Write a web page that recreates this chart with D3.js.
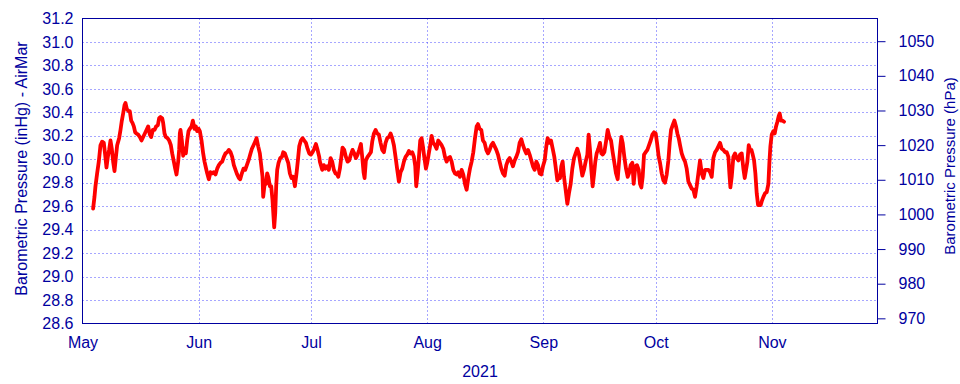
<!DOCTYPE html>
<html>
<head>
<meta charset="utf-8">
<script src="https://cdn.jsdelivr.net/npm/d3@7"></script>
<style>
  html, body { margin: 0; padding: 0; background: #ffffff; }
  svg { display: block; font-family: "Liberation Sans", Arial, sans-serif; }
</style>
</head>
<body>
<svg id="chart" width="960" height="384"></svg>
<script>
// ---------------- DATA ----------------
// [days since 2021-05-01 00:00, pressure in inHg]
const segMay = [[2.84,29.58],[3.20,29.68],[3.46,29.77],[3.91,29.88],[4.35,29.98],[4.80,30.12],[5.24,30.15],[5.69,30.14],[6.04,30.04],[6.40,29.93],[6.76,30.02],[7.11,30.08],[7.47,30.16],[7.82,30.09],[8.18,29.98],[8.54,29.90],[8.89,30.01],[9.25,30.12],[9.78,30.18],[10.14,30.25],[10.50,30.33],[10.85,30.39],[11.21,30.46],[11.47,30.48],[11.83,30.43],[12.28,30.41],[12.63,30.41],[12.99,30.33],[13.34,30.31],[13.70,30.28],[14.06,30.23],[14.41,30.22],[14.86,30.21],[15.30,30.19],[15.75,30.16],[16.19,30.19],[16.64,30.22],[17.08,30.25],[17.53,30.28],[17.97,30.21],[18.33,30.19],[18.77,30.25],[19.22,30.25],[19.66,30.28],[20.11,30.29],[20.46,30.35],[20.82,30.36],[21.27,30.35],[21.53,30.31],[21.89,30.22],[22.24,30.19],[22.69,30.18],[23.13,30.16],[23.58,30.12],[23.94,30.05],[24.38,29.98],[24.74,29.92],[25.09,29.87],[25.54,29.98],[25.80,30.08],[25.98,30.22],[26.16,30.25],[26.52,30.16],[26.87,30.03],[27.23,30.09],[27.59,30.05],[27.94,30.16],[28.30,30.24],[28.65,30.26],[29.10,30.28],[29.45,30.33],[29.90,30.26],[30.26,30.28],[30.61,30.24],[30.97,30.26]];
const segJun = [[31.32,30.24],[31.77,30.16],[32.21,30.05],[32.57,29.98],[32.92,29.93],[33.28,29.88],[33.72,29.83],[34.17,29.89],[34.61,29.88],[35.06,29.89],[35.50,29.87],[35.95,29.92],[36.39,29.95],[36.84,29.97],[37.28,29.98],[37.73,30.02],[38.17,30.05],[38.62,30.06],[39.06,30.08],[39.51,30.06],[39.95,30.02],[40.40,29.95],[40.84,29.91],[41.29,29.87],[41.73,29.84],[42.09,29.83],[42.54,29.88],[42.98,29.92],[43.43,29.91],[43.87,29.95],[44.32,29.99],[44.76,30.04],[45.21,30.09],[45.65,30.12],[46.10,30.15],[46.45,30.18],[46.90,30.11],[47.34,30.05],[47.70,29.95],[48.05,29.85],[48.23,29.68],[48.59,29.78],[48.94,29.79],[49.30,29.88],[49.66,29.84],[50.01,29.77],[50.37,29.77],[50.72,29.65],[50.99,29.51],[51.17,29.42],[51.44,29.54],[51.70,29.77],[51.97,29.91],[52.33,29.97],[52.77,30.01],[53.22,30.02],[53.57,30.06],[54.02,30.05],[54.46,30.01],[54.91,29.97],[55.35,29.88],[55.80,29.84],[56.24,29.85],[56.69,29.77],[57.13,29.88],[57.49,29.99],[57.85,30.11],[58.29,30.16],[58.74,30.18],[59.18,30.16],[59.63,30.14],[60.07,30.09],[60.52,30.05],[60.96,30.04],[61.41,30.06],[61.85,30.09],[62.30,30.13],[62.74,30.08],[63.19,30.02]];
const segJul = [[63.36,29.98],[63.63,29.95],[63.98,29.91],[64.43,29.95],[64.87,29.92],[65.32,29.94],[65.76,29.91],[66.21,30.01],[66.65,29.98],[67.10,29.91],[67.54,29.88],[67.99,29.87],[68.26,29.85],[68.70,29.92],[69.06,30.01],[69.41,30.10],[69.86,30.08],[70.30,30.02],[70.75,29.98],[71.19,29.99],[71.64,30.04],[72.08,30.08],[72.53,30.05],[72.97,30.01],[73.42,30.04],[73.86,30.08],[74.31,30.13],[74.66,30.02],[75.02,29.89],[75.29,29.84],[75.64,29.99],[76.09,30.02],[76.53,30.04],[76.98,30.06],[77.33,30.15],[77.78,30.22],[78.22,30.25],[78.67,30.22],[79.11,30.21],[79.56,30.14],[80.00,30.08],[80.45,30.06],[80.89,30.14],[81.34,30.18],[81.78,30.19],[82.23,30.22],[82.67,30.18],[83.12,30.12],[83.56,30.02],[84.01,29.91],[84.45,29.81],[84.90,29.89],[85.34,29.92],[85.79,29.98],[86.23,30.02],[86.68,30.04],[87.12,30.07],[87.57,30.05],[88.01,30.06],[88.46,30.02],[88.82,29.94],[89.08,29.77],[89.44,29.88],[89.80,30.02],[90.15,30.16],[90.51,30.18],[90.86,30.11],[91.22,30.02],[91.67,29.92],[92.02,29.97],[92.38,30.04],[92.82,30.12],[93.18,30.20],[93.62,30.14],[94.07,30.12],[94.51,30.09],[94.96,30.16]];
const segAug = [[95.41,30.14],[95.86,30.12],[96.30,30.09],[96.75,30.02],[97.19,29.98],[97.64,30.01],[98.08,30.02],[98.53,29.98],[98.97,29.91],[99.42,29.88],[99.86,29.87],[100.31,29.89],[100.75,29.85],[101.20,29.91],[101.64,29.87],[102.09,29.79],[102.53,29.74],[102.98,29.84],[103.42,29.92],[103.87,29.98],[104.31,30.06],[104.76,30.18],[105.20,30.28],[105.56,30.30],[106.00,30.26],[106.45,30.25],[106.89,30.16],[107.34,30.14],[107.78,30.08],[108.23,30.05],[108.67,30.08],[109.12,30.12],[109.56,30.14],[110.01,30.11],[110.45,30.08],[110.90,30.04],[111.34,29.98],[111.79,29.92],[112.23,29.88],[112.68,29.86],[113.12,29.95],[113.57,29.99],[114.01,30.01],[114.46,29.98],[114.90,29.94],[115.35,29.99],[115.79,30.02],[116.24,30.06],[116.68,30.14],[117.13,30.17],[117.57,30.12],[118.02,30.08],[118.46,30.05],[118.91,30.08],[119.35,30.04],[119.80,29.99],[120.24,29.94],[120.69,29.91],[121.13,29.98],[121.58,29.95],[122.02,29.88],[122.47,29.87],[122.91,29.94],[123.36,29.99],[123.80,30.11],[124.16,30.18],[124.61,30.14],[125.05,30.16],[125.50,30.09],[125.94,30.02],[126.39,29.91],[126.74,29.82],[127.19,29.85]];
const segSep = [[127.45,29.84],[127.81,29.94],[128.16,29.98],[128.52,29.85],[128.96,29.74],[129.41,29.62],[129.85,29.71],[130.30,29.79],[130.74,29.92],[131.19,30.01],[131.63,30.05],[132.08,30.09],[132.52,30.04],[132.97,29.95],[133.41,29.86],[133.86,29.91],[134.30,29.98],[134.75,30.04],[135.10,30.21],[135.46,30.08],[135.82,29.91],[136.17,29.77],[136.53,29.87],[136.88,29.98],[137.24,30.05],[137.69,30.09],[138.13,30.14],[138.49,30.05],[138.84,30.04],[139.29,30.06],[139.73,30.15],[140.18,30.25],[140.62,30.19],[141.07,30.16],[141.51,30.06],[141.96,29.97],[142.40,29.88],[142.85,29.83],[143.20,29.97],[143.56,30.11],[143.83,30.19],[144.18,30.14],[144.63,30.02],[145.07,29.92],[145.52,29.85],[145.87,29.88],[146.32,29.95],[146.76,29.97],[147.12,29.79],[147.57,29.94],[148.01,29.95],[148.46,29.91],[148.81,29.79],[149.17,29.76],[149.52,29.85],[149.88,30.04],[150.33,30.06],[150.77,30.08],[151.22,30.12],[151.66,30.16],[152.11,30.21],[152.55,30.23],[153.00,30.22],[153.35,30.14],[153.80,30.02],[154.15,29.97],[154.60,29.88],[155.04,29.82],[155.49,29.80],[155.93,29.87],[156.38,29.99],[156.73,30.14],[157.09,30.25],[157.53,30.29],[157.98,30.33],[158.42,30.28],[158.78,30.22],[159.14,30.18]];
const segOct = [[159.49,30.12],[159.94,30.05],[160.38,30.01],[160.83,29.98],[161.27,29.92],[161.72,29.81],[162.16,29.78],[162.61,29.75],[163.05,29.74],[163.50,29.68],[163.94,29.77],[164.39,29.88],[164.83,29.99],[165.28,29.88],[165.72,29.84],[166.17,29.91],[166.61,29.91],[167.06,29.91],[167.50,29.89],[167.95,29.85],[168.39,30.01],[168.84,30.06],[169.28,30.08],[169.73,30.11],[170.17,30.14],[170.62,30.09],[171.06,30.08],[171.51,30.06],[171.95,30.06],[172.40,30.02],[172.66,29.88],[172.93,29.76],[173.29,29.85],[173.73,30.02],[174.18,30.05],[174.62,30.01],[175.07,29.99],[175.51,30.04],[175.96,30.05],[176.40,29.92],[176.76,29.84],[177.11,29.91],[177.47,29.98],[177.83,30.12],[178.18,30.08],[178.54,30.08],[178.89,30.04],[179.25,29.99],[179.60,29.88],[179.96,29.71],[180.32,29.61],[180.67,29.61],[181.03,29.61],[181.39,29.65],[181.74,29.68],[182.19,29.71],[182.63,29.72],[183.08,29.79],[183.34,29.97],[183.61,30.11],[183.97,30.21],[184.41,30.24],[184.77,30.22],[185.12,30.28],[185.48,30.32],[185.84,30.37],[186.10,30.39],[186.46,30.33],[186.82,30.33],[187.26,30.32]];

const startDate = "2021-05-01";
const endDays = 212.2;                 // right end of the time axis, days after start
const inHgTicks = [28.6,28.8,29.0,29.2,29.4,29.6,29.8,30.0,30.2,30.4,30.6,30.8,31.0,31.2];
const hPaTicks = [970,980,990,1000,1010,1020,1030,1040,1050];
const HPA_PER_INHG = 33.8639;
const leftTitle = "Barometric Pressure (inHg) - AirMar";
const rightTitle = "Barometric Pressure (hPa)";
const bottomTitle = "2021";

// ---------------- LAYOUT ----------------
const navy = "#0000a0";
const L = 82.5, R = 877.5, T = 18.5, B = 323.5;
const DAY = 864e5;
const t0 = new Date(startDate + "T00:00:00Z");
const t1 = new Date(+t0 + endDays * DAY);

const svg = d3.select("#chart");
const x = d3.scaleUtc().domain([t0, t1]).range([L, R]);
const y = d3.scaleLinear().domain([28.6, 31.2]).range([B, T]);
const yh = d3.scaleLinear().domain([28.6 * HPA_PER_INHG, 31.2 * HPA_PER_INHG]).range([B, T]);

const monthTicks = d3.utcMonth.range(t0, t1);

// grid
const grid = svg.append("g").attr("stroke", "#2020ff").attr("stroke-width", 1)
  .attr("stroke-dasharray", "1,3").attr("opacity", 0.8);
grid.selectAll("line.h").data(inHgTicks.filter(v => v > 28.6 && v < 31.2)).join("line")
  .attr("x1", L).attr("x2", R)
  .attr("y1", d => Math.round(y(d)) + 0.5).attr("y2", d => Math.round(y(d)) + 0.5);
grid.selectAll("line.v").data(monthTicks.filter(d => +d > +t0)).join("line")
  .attr("y1", T).attr("y2", B)
  .attr("x1", d => Math.round(x(d)) + 0.5).attr("x2", d => Math.round(x(d)) + 0.5);

// data line
const data = [].concat(segMay, segJun, segJul, segAug, segSep, segOct)
  .map(([d, v]) => ({ t: new Date(+t0 + d * DAY), v }));
const line = d3.line().x(d => x(d.t)).y(d => y(d.v)).curve(d3.curveLinear);
svg.append("path").datum(data)
  .attr("fill", "none").attr("stroke", "#ff0000").attr("stroke-width", 3.8)
  .attr("stroke-linejoin", "round").attr("stroke-linecap", "round")
  .attr("d", line);

// frame
svg.append("rect").attr("x", L).attr("y", T).attr("width", R - L).attr("height", B - T)
  .attr("fill", "none").attr("stroke", navy).attr("stroke-width", 1);

function styleAxis(g) {
  g.select(".domain").remove();
  g.selectAll("text").attr("fill", navy).style("font-size", "16px")
    .style("font-family", "'Liberation Sans', Arial, sans-serif");
  g.selectAll("line").attr("stroke", navy);
}

// left axis
svg.append("g").attr("transform", `translate(${L},0)`)
  .call(d3.axisLeft(y).tickValues(inHgTicks).tickFormat(d3.format(".1f")).tickSize(0).tickPadding(9))
  .call(styleAxis);

// right axis (hPa)
svg.append("g").attr("transform", `translate(${R},0)`)
  .call(d3.axisRight(yh).tickValues(hPaTicks).tickFormat(d3.format("d")).tickSize(8).tickPadding(13))
  .call(styleAxis);

// bottom axis
svg.append("g").attr("transform", `translate(0,${B})`)
  .call(d3.axisBottom(x).tickValues(monthTicks).tickFormat(d3.utcFormat("%b")).tickSize(0).tickPadding(13.5))
  .call(styleAxis);

// titles
svg.append("text").attr("transform", "translate(26.5,168.5) rotate(-90)")
  .attr("text-anchor", "middle").attr("fill", navy).style("font-size", "16px").text(leftTitle);
svg.append("text").attr("transform", "translate(955,166) rotate(-90)")
  .attr("text-anchor", "middle").attr("fill", navy).style("font-size", "15px").text(rightTitle);
svg.append("text").attr("x", 480).attr("y", 377)
  .attr("text-anchor", "middle").attr("fill", navy).style("font-size", "16px").text(bottomTitle);
</script>
</body>
</html>
